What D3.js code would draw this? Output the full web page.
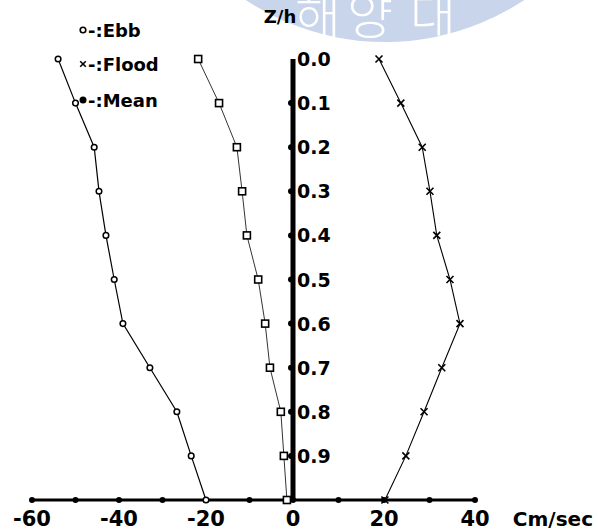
<!DOCTYPE html>
<html>
<head>
<meta charset="utf-8">
<script src="https://cdn.jsdelivr.net/npm/d3@7"></script>
<style>
  body { margin: 0; background: #fff; }
  text { font-family: "DejaVu Sans", sans-serif; font-weight: bold; }
</style>
</head>
<body>
<svg id="chart" width="598" height="532"></svg>
<script>
// relative depth Z/h (0 = surface, 1 = bottom)
const depths = [0.0, 0.1, 0.2, 0.3, 0.4, 0.5, 0.6, 0.7, 0.8, 0.9, 1.0];
// current speed in cm/sec
const ebb   = [-54, -50, -45.7, -44.6, -43, -41.1, -39.1, -32.9, -26.7, -23.4, -20];
const mean  = [-21.8, -17, -12.9, -11.7, -10.6, -8, -6.4, -5.3, -2.8, -2.1, -1.4];
const flood = [18.9, 23.7, 28.4, 30.1, 31.6, 34.5, 36.7, 32.7, 28.8, 24.8, 20.2];

const xTicks = [-60, -50, -40, -30, -20, -10, 0, 10, 20, 30, 40];
const xLabels = [-60, -40, -20, 0, 20, 40];
const yTicks = [0.1, 0.2, 0.3, 0.4, 0.5, 0.6, 0.7, 0.8, 0.9];
const yLabels = [0.0, 0.1, 0.2, 0.3, 0.4, 0.5, 0.6, 0.7, 0.8, 0.9];

const svg = d3.select("#chart");

// the hand drawn axis is a bit squeezed on the negative side
const x = d3.scaleLinear().domain([-60, 0, 40]).range([32, 293, 475]);
const y = d3.scaleLinear().domain([0, 1]).range([59, 500]);

// faded library stamp at the top
const stamp = svg.append("g");
stamp.append("circle")
  .attr("cx", 385).attr("cy", -210).attr("r", 252)
  .attr("fill", "#c9d5ea");
stamp.selectAll("text")
  .data(["해", "양", "대"])
  .enter()
  .append("text")
  .attr("x", (d, i) => [318, 370, 433][i])
  .attr("y", 34)
  .attr("text-anchor", "middle")
  .style("font-family", "'Noto Sans CJK KR'")
  .style("font-weight", "300")
  .style("font-size", "50px")
  .attr("fill", "#fff")
  .text(d => d);

// x axis (horizontal line with dots)
svg.append("line")
  .attr("x1", x(-60)).attr("x2", x(40))
  .attr("y1", y(1)).attr("y2", y(1))
  .attr("stroke", "#000").attr("stroke-width", 3);
svg.selectAll(".xdot")
  .data(xTicks)
  .enter()
  .append("circle")
  .attr("cx", d => x(d)).attr("cy", y(1))
  .attr("r", 3).attr("fill", "#000");
svg.selectAll(".xlab")
  .data(xLabels)
  .enter()
  .append("text")
  .attr("x", d => x(d))
  .attr("y", 526)
  .attr("text-anchor", "middle")
  .style("font-size", "21px")
  .text(d => d < 0 ? "-" + Math.abs(d) : d);
svg.append("text")
  .attr("x", 593).attr("y", 526)
  .attr("text-anchor", "end")
  .style("font-size", "20px")
  .text("Cm/sec");

// z axis (thick vertical line at 0)
svg.append("line")
  .attr("x1", x(0)).attr("x2", x(0))
  .attr("y1", y(0)).attr("y2", y(1))
  .attr("stroke", "#000").attr("stroke-width", 5);
svg.selectAll(".ydot")
  .data(yTicks)
  .enter()
  .append("circle")
  .attr("cx", x(0) - 2).attr("cy", d => y(d))
  .attr("r", 3).attr("fill", "#000");
svg.selectAll(".ylab")
  .data(yLabels)
  .enter()
  .append("text")
  .attr("x", x(0) + 4)
  .attr("y", d => y(d) + 7)
  .style("font-size", "19px")
  .text(d => d.toFixed(1));
svg.append("text")
  .attr("x", 280).attr("y", 23)
  .attr("text-anchor", "middle")
  .style("font-size", "18px")
  .text("Z/h");

// profiles
const line = (vals) => d3.line()
  .x(d => x(vals[depths.indexOf(d)]))
  .y(d => y(d))(depths);

svg.append("path").attr("d", line(ebb))
  .attr("fill", "none").attr("stroke", "#000").attr("stroke-width", 1.2);
svg.append("path").attr("d", line(mean))
  .attr("fill", "none").attr("stroke", "#000").attr("stroke-width", 0.8);
svg.append("path").attr("d", line(flood))
  .attr("fill", "none").attr("stroke", "#000").attr("stroke-width", 1.1);

// ebb: open circles
svg.selectAll(".ebb")
  .data(depths)
  .enter()
  .append("circle")
  .attr("cx", (d, i) => x(ebb[i])).attr("cy", d => y(d))
  .attr("r", 2.8)
  .attr("fill", "#fff").attr("stroke", "#000").attr("stroke-width", 1.5);

// mean: open squares
svg.selectAll(".mean")
  .data(depths)
  .enter()
  .append("rect")
  .attr("x", (d, i) => x(mean[i]) - 3.5).attr("y", d => y(d) - 3.5)
  .attr("width", 7).attr("height", 7)
  .attr("fill", "#fff").attr("stroke", "#000").attr("stroke-width", 1.6);

// flood: crosses
const cross = (g, cx, cy, s) => {
  g.append("path")
    .attr("d", `M${cx - s},${cy - s}L${cx + s},${cy + s}M${cx - s},${cy + s}L${cx + s},${cy - s}`)
    .attr("stroke", "#000").attr("stroke-width", 1.6);
};
depths.forEach((d, i) => cross(svg, x(flood[i]), y(d), 3.5));

// legend
const legend = svg.append("g");
legend.append("circle").attr("cx", 83).attr("cy", 30).attr("r", 2.8)
  .attr("fill", "#fff").attr("stroke", "#000").attr("stroke-width", 1.6);
cross(legend, 83, 64, 2.8);
legend.append("circle").attr("cx", 83).attr("cy", 100).attr("r", 3.5).attr("fill", "#000");
legend.selectAll("text")
  .data(["-:Ebb", "-:Flood", "-:Mean"])
  .enter()
  .append("text")
  .attr("x", 88)
  .attr("y", (d, i) => [30, 64, 100][i] + 7)
  .style("font-size", "18px")
  .text(d => d);
</script>
</body>
</html>
